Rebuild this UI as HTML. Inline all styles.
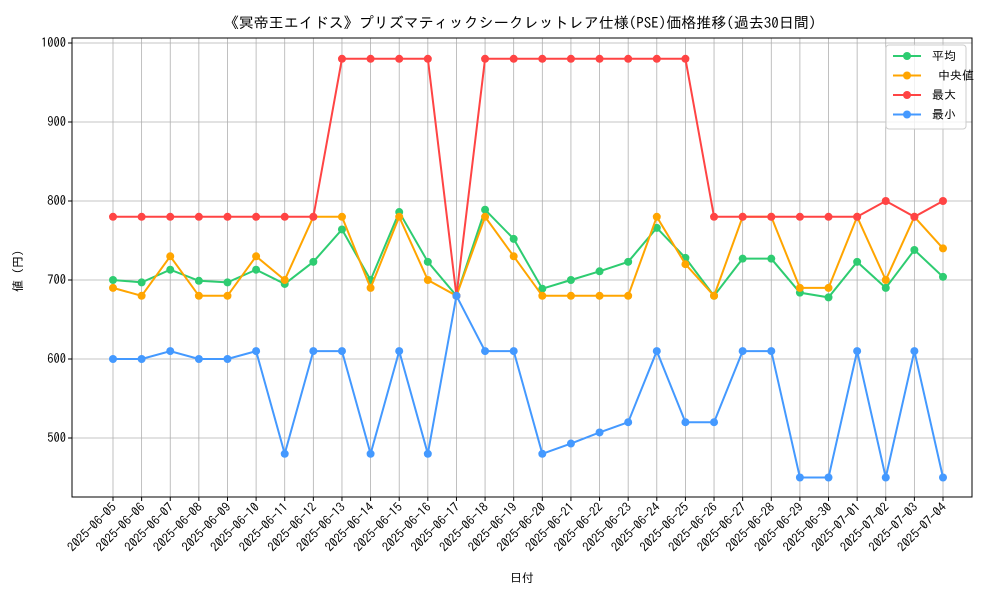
<!DOCTYPE html>
<html><head><meta charset="utf-8"><style>
body{margin:0;background:#fff}
svg text{font-family:"IPAGothic","Noto Sans CJK JP",sans-serif;fill:#000}
</style></head><body>
<svg id="chart" width="1000" height="600" xmlns="http://www.w3.org/2000/svg">
<rect width="1000" height="600" fill="#fff"/>
<text x="520" y="28" font-size="15" text-anchor="middle">《冥帝王エイドス》プリズマティックシークレットレア仕様(PSE)価格推移(過去30日間)</text>
<g id="grid"></g>
<g id="series"></g>
<g id="axes"></g>
<text x="522" y="582" font-size="12" text-anchor="middle">日付</text>
<text transform="translate(22,268) rotate(-90)" font-size="12" text-anchor="middle">値（円）</text>
<g id="legend"></g>
</svg>
<script>
const dates=["2025-06-05","2025-06-06","2025-06-07","2025-06-08","2025-06-09","2025-06-10","2025-06-11","2025-06-12","2025-06-13","2025-06-14","2025-06-15","2025-06-16","2025-06-17","2025-06-18","2025-06-19","2025-06-20","2025-06-21","2025-06-22","2025-06-23","2025-06-24","2025-06-25","2025-06-26","2025-06-27","2025-06-28","2025-06-29","2025-06-30","2025-07-01","2025-07-02","2025-07-03","2025-07-04"];
const avgVals=[700,697,713,699,697,713,695,723,764,700,786,723,680,789,752,689,700,711,723,766,728,680,727,727,684,678,723,690,738,704];
const medVals=[690,680,730,680,680,730,700,780,780,690,780,700,680,780,730,680,680,680,680,780,720,680,780,780,690,690,780,700,780,740];
const maxVals=[780,780,780,780,780,780,780,780,980,980,980,980,680,980,980,980,980,980,980,980,980,780,780,780,780,780,780,800,780,800];
const minVals=[600,600,610,600,600,610,480,610,610,480,610,480,680,610,610,480,493,507,520,610,520,520,610,610,450,450,610,450,610,450];
const yTicks=[500,600,700,800,900,1000];
const seriesNames=["平均","\u00a0中央値","最大","最小"];
const colors=["#2ecc71","#ffa500","#ff4444","#4499ff"];
const NS="http://www.w3.org/2000/svg";
const L=72,R=972,T=38,B=497;
const x=i=>113+i*(943-113)/(dates.length-1);
const y=v=>43+(1000-v)*0.79;
function mk(tag,attrs,parent){const e=document.createElementNS(NS,tag);for(const k in attrs)e.setAttribute(k,attrs[k]);parent.appendChild(e);return e;}
const grid=document.getElementById('grid'),axes=document.getElementById('axes'),ser=document.getElementById('series'),leg=document.getElementById('legend');
dates.forEach((d,i)=>{
 const g=mk('line',{x1:x(i),x2:x(i),y1:T,y2:B,stroke:'#b0b0b0','stroke-width':0.8},grid);
 
 mk('line',{x1:x(i),x2:x(i),y1:B,y2:B+4,stroke:'#000'},axes);
 const t=mk('text',{transform:`translate(${x(i)+4},${B+11}) rotate(-45)`,'font-size':12.5,'text-anchor':'end'},axes);
 t.textContent=d;
});
yTicks.forEach(v=>{
 const g=mk('line',{x1:L,x2:R,y1:y(v),y2:y(v),stroke:'#b0b0b0','stroke-width':0.8},grid);
 
 mk('line',{x1:L-4,x2:L,y1:y(v),y2:y(v),stroke:'#000'},axes);
 const t=mk('text',{x:L-6,y:y(v)+4,'font-size':12.5,'text-anchor':'end'},axes);
 t.textContent=v;
});
const fr=mk('rect',{x:L,y:T,width:R-L,height:B-T,fill:'none',stroke:'#000','stroke-width':1},axes);

[avgVals,medVals,maxVals,minVals].forEach((vals,s)=>{
 const g=mk('g',{},ser);
 const p=mk('polyline',{points:vals.map((v,i)=>x(i)+','+y(v)).join(' '),fill:'none',stroke:colors[s],'stroke-width':2},g);
 
 vals.forEach((v,i)=>{const c=mk('circle',{cx:x(i),cy:y(v),r:4,fill:colors[s]},g);
  });
});
const lb=mk('rect',{x:886,y:45,width:80,height:84,fill:'#fff','fill-opacity':0.8,stroke:'#ccc',rx:3},leg);

seriesNames.forEach((n,s)=>{
 const yy=56+s*19.5;
 const g=mk('g',{},leg);
 mk('line',{x1:893,x2:921,y1:yy,y2:yy,stroke:colors[s],'stroke-width':2},g);
 mk('circle',{cx:907,cy:yy,r:4,fill:colors[s]},g);
 const t=mk('text',{x:932,y:yy+4,'font-size':12},g);t.textContent=n;
});
</script>
</body></html>
